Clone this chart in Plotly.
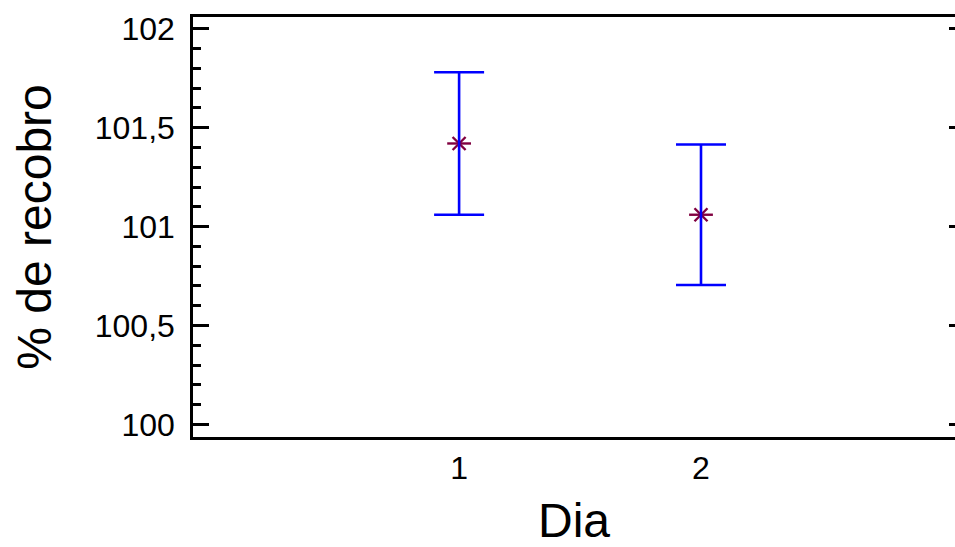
import plotly.graph_objects as go

# Mean recovery (%) per day with its interval half-width
dias = [1, 2]
dia_labels = ["1", "2"]
media = [101.42, 101.06]
semi_intervalo = [0.36, 0.355]

y_tickvals = [100, 100.5, 101, 101.5, 102]
y_ticktext = ["100", "100,5", "101", "101,5", "102"]

font_family = "Liberation Sans, Arial, sans-serif"
mark_color = "#800040"
bar_color = "#0000FF"

fig = go.Figure()

# Asterisk-like marker: diagonal cross plus horizontal stroke
fig.add_trace(go.Scatter(
    x=dias, y=media, mode="markers", showlegend=False, hoverinfo="skip",
    marker=dict(symbol="x-thin-open", size=13, color=mark_color,
                line=dict(color=mark_color, width=2.4)),
))
fig.add_trace(go.Scatter(
    x=dias, y=media, mode="markers", showlegend=False, hoverinfo="skip",
    marker=dict(symbol="line-ew-open", size=17, color=mark_color,
                line=dict(color=mark_color, width=2.4)),
))
# Interval bars drawn on top
fig.add_trace(go.Scatter(
    x=dias, y=media, mode="markers", showlegend=False,
    marker=dict(size=1, opacity=0),
    error_y=dict(type="data", array=semi_intervalo, visible=True,
                 color=bar_color, thickness=2.6, width=25),
))

# Right-side major ticks only
fig.add_trace(go.Scatter(x=dias, y=media, yaxis="y2", mode="markers",
                         marker=dict(opacity=0), showlegend=False,
                         hoverinfo="skip"))

fig.update_layout(
    width=955, height=547,
    margin=dict(l=193, r=0, t=17, b=110),
    paper_bgcolor="white", plot_bgcolor="white",
    font=dict(family=font_family, color="black", size=32),
    separators=",.",
    xaxis=dict(
        range=[-0.1, 3.05], tickvals=dias, ticktext=dia_labels,
        ticks="", showgrid=False, zeroline=False,
        showline=True, linecolor="black", linewidth=2.5, mirror=True,
        tickfont=dict(size=32), ticklabelstandoff=1,
        title=dict(text="Dia", font=dict(size=48), standoff=22),
    ),
    yaxis=dict(
        range=[99.937, 102.059], tickvals=y_tickvals, ticktext=y_ticktext,
        ticks="inside", ticklen=16, tickwidth=2.5, tickcolor="black",
        minor=dict(dtick=0.1, ticks="inside", ticklen=8, tickwidth=2.5,
                   tickcolor="black", showgrid=False),
        showgrid=False, zeroline=False,
        showline=True, linecolor="black", linewidth=2.5,
        tickfont=dict(size=32), ticklabelstandoff=9,
        title=dict(text="% de recobro", font=dict(size=48), standoff=28),
    ),
    yaxis2=dict(
        overlaying="y", side="right", anchor="free", position=1,
        range=[99.937, 102.059], tickvals=y_tickvals,
        ticks="inside", ticklen=6, tickwidth=2.5, tickcolor="black",
        showticklabels=False, showgrid=False, zeroline=False, showline=False,
    ),
)

fig.write_html("out.html")
